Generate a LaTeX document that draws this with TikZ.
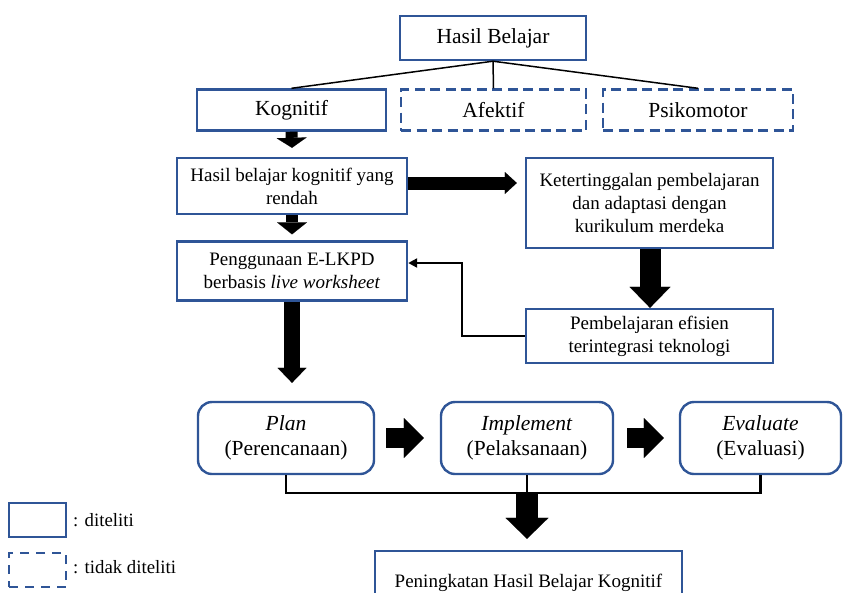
\documentclass[tikz,border=0pt]{standalone}
\usepackage{fontspec}
\setmainfont{Liberation Serif}
\usetikzlibrary{arrows.meta}
\definecolor{boxblue}{RGB}{47,85,151}
\tikzset{
  box/.style={draw=boxblue, line width=2.4pt, fill=white, inner sep=0pt, align=center},
  dbox/.style={box, dash pattern=on 10pt off 5.5pt},
  rbox/.style={box, rounded corners=14pt},
  bigtxt/.style={font=\fontsize{21.5}{25.5}\selectfont},
  midtxt/.style={font=\fontsize{19}{23}\selectfont},
  legtxt/.style={font=\fontsize{18.8}{21}\selectfont},
  thinline/.style={line width=2.2pt, black},
  blk/.style n args={3}{line width=#1pt, -{Triangle[width=#2pt,length=#3pt,line width=0.01pt]}},
}
\begin{document}
\begin{tikzpicture}[x=1pt,y=-1pt]
\useasboundingbox (0,0) rectangle (843,592);
% top row
\node[box,bigtxt,minimum width=186pt,minimum height=44pt] (hb) at (493,38) {Hasil Belajar};
\node[box,bigtxt,minimum width=189pt,minimum height=41pt] (kog) at (291.5,110) {Kognitif};
\node[dbox,bigtxt,minimum width=185pt,minimum height=41pt] (afe) at (493.5,110) {Afektif};
\node[dbox,bigtxt,minimum width=190pt,minimum height=41pt] (psi) at (698,110) {Psikomotor};
\draw[line width=1.5pt] (hb.south) -- (kog.north);
\draw[line width=1.5pt] (hb.south) -- (afe.north);
\draw[line width=1.5pt] (hb.south) -- (psi.north);
% middle
\node[box,midtxt,minimum width=230pt,minimum height=56pt] (hbk) at (292,186) {Hasil belajar kognitif yang\\rendah};
\node[box,midtxt,minimum width=230pt,minimum height=59pt] (pen) at (292,271) {Penggunaan E-LKPD\\berbasis \textit{live worksheet}};
\node[box,midtxt,minimum width=247pt,minimum height=90pt] (ket) at (649.5,203) {Ketertinggalan pembelajaran\\dan adaptasi dengan\\kurikulum merdeka};
\node[box,midtxt,minimum width=247pt,minimum height=54pt] (pem) at (649.5,336) {Pembelajaran efisien\\terintegrasi teknologi};
% plan row
\node[rbox,bigtxt,minimum width=176pt,minimum height=72pt] (plan) at (286,438) {\textit{Plan}\\(Perencanaan)};
\node[rbox,bigtxt,minimum width=172pt,minimum height=72pt] (impl) at (527,438) {\textit{Implement}\\(Pelaksanaan)};
\node[rbox,bigtxt,minimum width=161pt,minimum height=72pt] (eval) at (760.5,438) {\textit{Evaluate}\\(Evaluasi)};
\node[box,midtxt,minimum width=307pt,minimum height=64pt] (res) at (528.5,583) {Peningkatan Hasil Belajar Kognitif};
% block arrows
\draw[blk={12}{30}{10}] (kog.south) -- ([yshift=9pt]hbk.north);
\draw[blk={12}{30}{12}] (hbk.south) -- ([yshift=6pt]pen.north);
\coordinate (hs) at ([yshift=3pt]hbk.east);
\coordinate (ke) at ([xshift=-8pt]ket.west);
\draw[blk={13}{22}{12}] (hs) -- (ke |- hs);
\draw[blk={21}{41}{21}] ([xshift=0.5pt]ket.south) -- ([xshift=0.5pt]pem.north);
\coordinate (pt) at ([yshift=18pt]plan.north);
\draw[blk={16}{29}{15}] (pen.south) -- (pen.south |- pt);
\draw[blk={20}{40}{20}] ([xshift=11pt]plan.east) -- ([xshift=-16pt]impl.west);
\draw[blk={20}{40}{20}] ([xshift=13pt]impl.east) -- ([xshift=-15pt]eval.west);
% feedback connector
\draw[thinline, -{Triangle[width=9pt,length=9pt]}] (pem.west) -- ++(-63,0) |- ([yshift=8pt]pen.east);
% bottom junction
\coordinate (j) at (527,493);
\draw[thinline] (plan.south) |- (j) -| (eval.south);
\draw[thinline] (impl.south) -- (j);
\coordinate (rt) at ([yshift=11pt]res.north);
\draw[blk={22}{43}{21}] (j) -- (j |- rt);
% legend
\node[box,minimum width=57pt,minimum height=34pt] (l1) at (37.5,520) {};
\node[dbox,dash pattern=on 9pt off 7pt,minimum width=57pt,minimum height=34pt] (l2) at (37.5,570) {};
\node[legtxt,anchor=base west,inner sep=0pt] (t1) at (73,526) {: diteliti};
\node[legtxt,anchor=base west,inner sep=0pt] (t2) at (73,573) {: tidak diteliti};
\end{tikzpicture}
\end{document}
